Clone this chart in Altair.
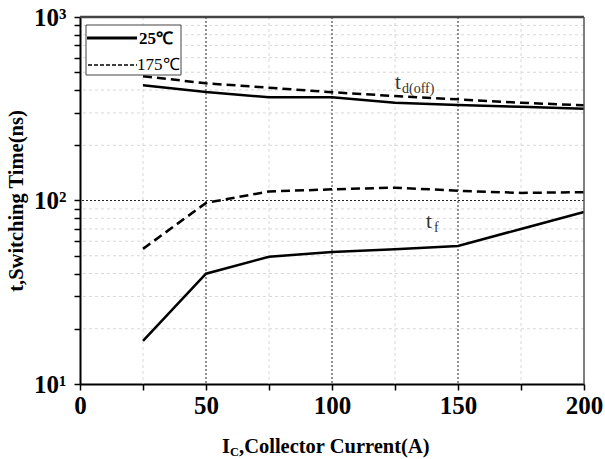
import altair as alt
import pandas as pd

# ---- data ----
current = [25, 50, 75, 100, 125, 150, 175, 200]
tdoff_25 = [425, 390, 365, 365, 341, 331, 324, 316]
tdoff_175 = [476, 435, 412, 389, 371, 356, 341, 330]
tf_25 = [17.2, 39.9, 49.4, 52.4, 54.3, 56.5, 70, 86.5]
tf_175 = [54.5, 97, 112, 115, 117.5, 113, 110, 111]

x_ticks = [0, 25, 50, 75, 100, 125, 150, 175, 200]
y_ticks = [10, 20, 30, 40, 50, 60, 70, 80, 90,
           100, 200, 300, 400, 500, 600, 700, 800, 900, 1000]
x_minor_grid = [25, 75, 125, 175]
x_major_grid = [50, 100, 150]
y_minor_grid = [20, 30, 40, 50, 60, 70, 80, 90, 200, 300, 400, 500, 600, 700, 800, 900]
y_major_grid = [100]

W, H = 504, 367
SERIF = "Liberation Serif"

xs = alt.Scale(domain=[0, 200], nice=False, zero=False)
ys = alt.Scale(type="log", domain=[10, 1000], nice=False)

rows = []
for name, vals, temp in [("tdoff", tdoff_25, "25"), ("tf", tf_25, "25"),
                         ("tdoff", tdoff_175, "175"), ("tf", tf_175, "175")]:
    for c, v in zip(current, vals):
        rows.append({"current": c, "time": v, "qty": name, "temp": temp, "key": name + temp})
df = pd.DataFrame(rows)

one = pd.DataFrame({"a": [0]})

x_axis = alt.Axis(
    values=x_ticks,
    labelExpr="datum.value % 50 == 0 ? datum.label : ''",
    labelFont=SERIF, labelFontWeight="bold", labelFontSize=25, labelColor="black",
    labelPadding=3, labelFlush=False, tickSize=6, tickColor="black", tickWidth=1.5,
    domainColor="black", domainWidth=2, grid=False, title=None,
)
y_axis = alt.Axis(
    values=y_ticks,
    labelExpr="datum.value == 10 ? '10¹' : datum.value == 100 ? '10²' : datum.value == 1000 ? '10³' : ''",
    labelFont=SERIF, labelFontWeight="bold", labelFontSize=25, labelColor="black",
    labelPadding=8, labelFlush=False, tickSize=6, tickColor="black", tickWidth=1.5,
    domainColor="black", domainWidth=2, grid=False,
    title="t,Switching Time(ns)", titleFont=SERIF, titleFontWeight="bold",
    titleFontSize=20.5, titleColor="black", titlePadding=7,
)

# grids
g_minor_x = alt.Chart(pd.DataFrame({"current": x_minor_grid})).mark_rule(
    color="#d8d8d8", strokeDash=[3, 3], strokeWidth=1
).encode(x=alt.X("current:Q", scale=xs, axis=x_axis))
g_minor_y = alt.Chart(pd.DataFrame({"time": y_minor_grid})).mark_rule(
    color="#d8d8d8", strokeDash=[3, 3], strokeWidth=1
).encode(y=alt.Y("time:Q", scale=ys, axis=y_axis))
g_major_x = alt.Chart(pd.DataFrame({"current": x_major_grid})).mark_rule(
    color="#222", strokeDash=[2, 2], strokeWidth=1
).encode(x=alt.X("current:Q", scale=xs, axis=x_axis))
g_major_y = alt.Chart(pd.DataFrame({"time": y_major_grid})).mark_rule(
    color="#222", strokeDash=[2, 2], strokeWidth=1
).encode(y=alt.Y("time:Q", scale=ys, axis=y_axis))

solid = alt.Chart(df[df.temp == "25"]).mark_line(color="black", strokeWidth=2.5).encode(
    x=alt.X("current:Q", scale=xs, axis=x_axis),
    y=alt.Y("time:Q", scale=ys, axis=y_axis),
    detail="key:N",
)
dashed = alt.Chart(df[df.temp == "175"]).mark_line(
    color="black", strokeWidth=2.5, strokeDash=[9, 5]
).encode(
    x=alt.X("current:Q", scale=xs, axis=x_axis),
    y=alt.Y("time:Q", scale=ys, axis=y_axis),
    detail="key:N",
)


def txt(text, x, y, size, weight="normal", color="black", font=SERIF, align="left", baseline="alphabetic"):
    return alt.Chart(one).mark_text(
        text=text, fontSize=size, fontWeight=weight, color=color, font=font,
        align=align, baseline=baseline
    ).encode(x=alt.value(x), y=alt.value(y))


# curve annotations
ann = [
    txt("t", 315, 72, 21, color="#333"),
    txt("d(off)", 322, 76, 14, color="#333"),
    txt("t", 346, 211, 21, color="#333"),
    txt("f", 354, 215, 14, color="#333"),
]

# legend
leg_box = alt.Chart(one).mark_rect(fill="white", stroke="#444", strokeWidth=1).encode(
    x=alt.value(6), x2=alt.value(101), y=alt.value(8), y2=alt.value(58)
)
leg_solid = alt.Chart(one).mark_rule(color="black", strokeWidth=3).encode(
    x=alt.value(7), x2=alt.value(57), y=alt.value(21)
)
leg_dash = alt.Chart(one).mark_rule(color="black", strokeWidth=1.5, strokeDash=[4, 2]).encode(
    x=alt.value(8), x2=alt.value(57), y=alt.value(48)
)
leg_t1 = txt("25℃", 59, 22, 17, weight="bold", baseline="middle")
leg_t2 = txt("175℃", 57, 48, 17, baseline="middle")

# frame top/right
top_b = alt.Chart(one).mark_rule(color="#444", strokeWidth=2.5).encode(
    x=alt.value(0), x2=alt.value(W), y=alt.value(0)
)
right_b = alt.Chart(one).mark_rule(color="#555", strokeWidth=1.5).encode(
    x=alt.value(W), y=alt.value(0), y2=alt.value(H)
)

# x title with subscript
xt = [
    txt("I", 142, 436, 20.5, weight="bold"),
    txt("C", 150, 439, 12.5, weight="bold"),
    txt(",Collector Current(A)", 159, 436, 20.5, weight="bold"),
]

chart = alt.layer(
    g_minor_x, g_minor_y, g_major_x, g_major_y, solid, dashed,
    *ann, leg_box, leg_solid, leg_dash, leg_t1, leg_t2, top_b, right_b, *xt
).properties(
    width=W, height=H,
    autosize=alt.AutoSizeParams(type="none"),
    padding={"left": 80, "top": 17, "right": 21, "bottom": 75},
    background="white",
).configure_view(stroke=None)

chart.save("out.html", embed_options={"renderer": "svg", "actions": False})
